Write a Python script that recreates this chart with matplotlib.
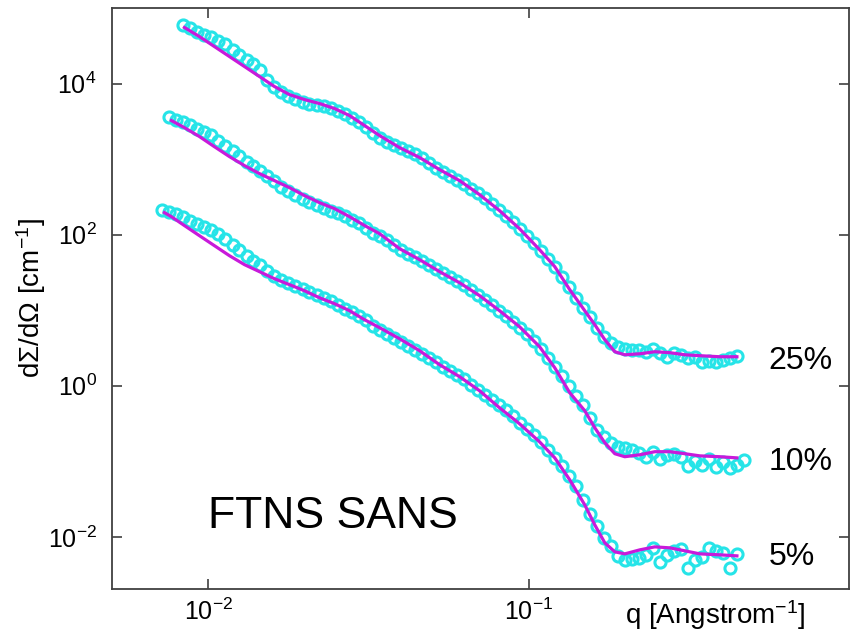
import matplotlib
matplotlib.use("Agg")
import matplotlib.pyplot as plt
from matplotlib.ticker import FixedLocator, LogFormatterMathtext, NullLocator

plt.rcParams["font.family"] = ["Liberation Sans", "DejaVu Sans"]
plt.rcParams["mathtext.fontset"] = "custom"
plt.rcParams["mathtext.rm"] = "Liberation Sans"
plt.rcParams["mathtext.it"] = "Liberation Sans:italic"
plt.rcParams["mathtext.sf"] = "Liberation Sans"

# measured q points [1/Angstrom]
q_data = [
    0.007182, 0.007553, 0.007943, 0.008353, 0.008785, 0.009239, 0.009716, 0.01022, 0.01075, 0.01130,
    0.01189, 0.01250, 0.01315, 0.01382, 0.01454, 0.01529, 0.01608, 0.01691, 0.01778, 0.01870,
    0.01967, 0.02068, 0.02175, 0.02288, 0.02406, 0.02530, 0.02661, 0.02798, 0.02943, 0.03095,
    0.03255, 0.03423, 0.03600, 0.03786, 0.03982, 0.04187, 0.04404, 0.04631, 0.04870, 0.05122,
    0.05387, 0.05665, 0.05958, 0.06265, 0.06589, 0.06930, 0.07288, 0.07664, 0.08060, 0.08476,
    0.08914, 0.09375, 0.09859, 0.1037, 0.1090, 0.1147, 0.1206, 0.1268, 0.1334, 0.1403,
    0.1475, 0.1551, 0.1632, 0.1716, 0.1805, 0.1898, 0.1996, 0.2099, 0.2207, 0.2321,
    0.2441, 0.2568, 0.2700, 0.2840, 0.2986, 0.3141, 0.3303, 0.3474, 0.3653, 0.3842,
    0.4040, 0.4249, 0.4468, 0.4699,
]

# scattered intensity [1/cm]
i_5pct = [
    214, 202, 190, 173, 153, 140, 128, 116, 103, 88.5,
    73.7, 63.3, 52.7, 45.3, 40.1, 33.4, 28.6, 25.4, 23.1, 21.1,
    19.3, 17.6, 16.0, 14.6, 13.4, 11.8, 10.5, 9.55, 8.46, 7.48,
    6.23, 5.52, 4.88, 4.32, 3.83, 3.39, 3.00, 2.65, 2.35, 2.08,
    1.79, 1.58, 1.40, 1.24, 1.03, 0.885, 0.760, 0.653, 0.560, 0.481,
    0.401, 0.324, 0.269, 0.224, 0.181, 0.142, 0.111, 0.0872, 0.0643, 0.0474,
    0.0309, 0.0202, 0.0140, 0.00970, 0.00760, 0.00560, 0.00496, 0.00511, 0.00527, 0.00578,
    0.00715, 0.00467, 0.00578, 0.00653, 0.00694, 0.00389, 0.00496, 0.00543, 0.00715, 0.00653,
    0.00614, 0.00389, 0.00595,
]
i_10pct = [
    3660, 3340, 3140, 2860, 2540, 2310, 2110, 1760, 1510, 1300,
    1110, 927, 820, 704, 605, 519, 432, 383, 339, 300,
    274, 250, 228, 208, 196, 179, 158, 144, 124, 106,
    97.0, 85.9, 73.7, 63.3, 56.0, 51.1, 45.3, 40.1, 35.5, 31.4,
    27.8, 24.6, 21.8, 18.7, 16.0, 13.8, 11.8, 9.85, 8.46, 7.04,
    5.87, 4.88, 3.94, 3.09, 2.35, 1.79, 1.36, 1.00, 0.737, 0.560,
    0.377, 0.261, 0.211, 0.176, 0.156, 0.151, 0.142, 0.130, 0.115, 0.134,
    0.108, 0.122, 0.126, 0.115, 0.0872, 0.102, 0.0899, 0.108, 0.0846, 0.0985,
    0.0820, 0.0899, 0.105,
]
i_25pct = [
    60500, 55200, 48800, 44600, 41900, 37100, 33900, 28200, 24200, 20800,
    18400, 14900, 11300, 9130, 7830, 6940, 6330, 5780, 5440, 5270,
    5110, 4810, 4390, 4010, 3550, 3140, 2700, 2240, 1930, 1710,
    1560, 1420, 1300, 1180, 1020, 899, 772, 683, 605, 535,
    474, 407, 360, 309, 257, 214, 179, 149, 120, 97.0,
    78.3, 61.4, 48.1, 37.7, 27.8, 20.5, 14.6, 10.8, 8.20, 5.87,
    4.46, 3.71, 3.29, 3.09, 3.00, 3.00, 2.82, 3.09, 2.74, 2.42,
    2.74, 2.57, 2.35, 2.42, 2.08, 2.14, 2.08, 2.21, 2.35, 2.50,
]

# each sample covers a slightly different q range
q_5pct = q_data[0:83]
q_10pct = q_data[1:84]
q_25pct = q_data[3:83]

# model fit curves
q_fit = [
    0.007286, 0.007661, 0.008414, 0.009373, 0.01044, 0.01163, 0.01296, 0.01443, 0.01608, 0.01791,
    0.01995, 0.02223, 0.02476, 0.02758, 0.03073, 0.03423, 0.03952, 0.04563, 0.05268, 0.06082,
    0.07022, 0.08107, 0.09360, 0.1081, 0.1206, 0.1343, 0.1496, 0.1608, 0.1728, 0.1857,
    0.1995, 0.2223, 0.2476, 0.2758, 0.3073, 0.3423, 0.3952, 0.4467,
]
fit_5pct = [
    196, 173, 132, 97.0, 71.5, 52.7, 40.1, 32.4, 26.1, 21.8,
    18.1, 14.6, 12.2, 9.85, 7.48, 5.87, 4.19, 2.91, 1.90, 1.32,
    0.859, 0.511, 0.314, 0.181, 0.111, 0.0569, 0.0265, 0.0144, 0.00833, 0.00633,
    0.00595, 0.00673, 0.00737, 0.00715, 0.00653, 0.00595, 0.00578, 0.00560,
]
fit_10pct = [
    3240, 2610, 1990, 1460, 1080, 820, 643, 519, 419,
    329, 265, 221, 173, 132, 103, 65.2, 46.7, 32.4, 23.1,
    15.6, 9.85, 6.05, 3.29, 1.73, 0.808, 0.467, 0.278, 0.176, 0.126,
    0.115, 0.122, 0.134, 0.134, 0.126, 0.118, 0.115, 0.111,
]
fit_25pct = [
    55200, 41900, 30900, 22800, 16800, 12400, 9130, 7150,
    6140, 5440, 4670, 3770, 2780, 2050, 1420, 1050, 726, 519,
    339, 208, 120, 63.3, 37.7, 18.7, 9.85, 6.43, 4.07, 2.82,
    2.57, 2.65, 2.82, 2.74, 2.57, 2.50, 2.42, 2.42,
]

labels = ["5%", "10%", "25%"]
label_y = [0.0054, 0.098, 2.1]

series = [
    (q_5pct, i_5pct, fit_5pct),
    (q_10pct, i_10pct, fit_10pct),
    (q_25pct, i_25pct, fit_25pct),
]

data_color = "#26E4E8"
fit_color = "#C81ADA"

fig = plt.figure(figsize=(8.55, 6.37), dpi=100)
ax = fig.add_axes([0.131, 0.0754, 0.862, 0.912])

for (q, i_vals, fit_vals), label, y_lab in zip(series, labels, label_y):
    f0 = len(q_fit) - len(fit_vals)
    ax.plot(q, i_vals, linestyle="none", marker="o", markersize=8,
            markerfacecolor="none", markeredgecolor=data_color, markeredgewidth=2.2, zorder=2)
    ax.plot(q_fit[f0:], fit_vals, color=fit_color, linewidth=2.3, zorder=3)
    ax.text(0.56, y_lab, label, fontsize=23, ha="left", va="center")

ax.text(0.0100, 0.0184, "FTNS SANS", fontsize=32, ha="left", va="center")

ax.set_xscale("log")
ax.set_yscale("log")
ax.set_xlim(0.005, 1.0)
ax.set_ylim(10 ** -2.69, 1e5)

ax.xaxis.set_major_locator(FixedLocator([1e-2, 1e-1]))
ax.yaxis.set_major_locator(FixedLocator([1e-2, 1e0, 1e2, 1e4]))
ax.xaxis.set_major_formatter(LogFormatterMathtext())
ax.yaxis.set_major_formatter(LogFormatterMathtext())
ax.xaxis.set_minor_locator(NullLocator())
ax.yaxis.set_minor_locator(NullLocator())
ax.tick_params(which="major", direction="in", length=7, width=1.2, color="#404040",
               top=True, right=True, labelsize=18)
ax.tick_params(axis="x", pad=7)
ax.tick_params(axis="y", pad=11)

for sp in ax.spines.values():
    sp.set_color("#404040")
    sp.set_linewidth(1.3)

ax.set_xlabel("q [Angstrom$^{-1}$]", fontsize=20)
ax.xaxis.set_label_coords(0.818, -0.016)
ax.set_ylabel("d\u03a3/d\u03a9 [cm$^{-1}$]", fontsize=20)
ax.yaxis.set_label_coords(-0.087, 0.5)

fig.savefig("out.png", dpi=100)
